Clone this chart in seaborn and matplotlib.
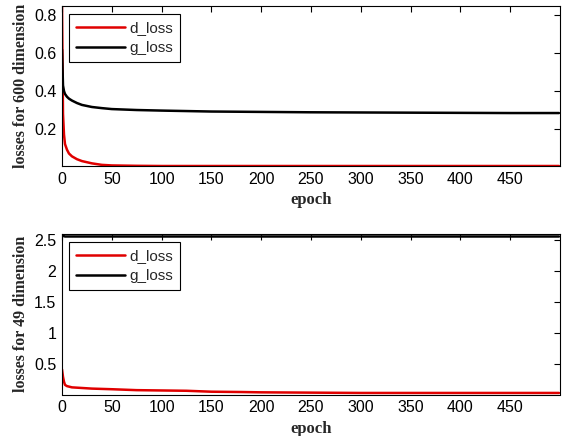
import numpy as np
import pandas as pd
import seaborn as sns
import matplotlib
matplotlib.use("Agg")
import matplotlib.pyplot as plt

# ---- data ----
epochs_600 = [0, 1, 2, 3, 5, 7, 10, 15, 20, 30, 40, 50, 75, 100, 150, 200, 250, 300, 350, 400, 450, 499]
d_loss_600 = [0.85, 0.28, 0.17, 0.12, 0.09, 0.07, 0.055, 0.04, 0.03, 0.018, 0.01, 0.007, 0.005, 0.004, 0.004,
              0.004, 0.004, 0.004, 0.004, 0.004, 0.004, 0.004]
g_loss_600 = [0.62, 0.43, 0.40, 0.385, 0.37, 0.36, 0.35, 0.337, 0.327, 0.316, 0.31, 0.305, 0.30, 0.297, 0.292,
              0.29, 0.288, 0.287, 0.286, 0.285, 0.284, 0.284]

epochs_49 = [0, 1, 2, 3, 5, 10, 20, 30, 50, 75, 100, 125, 150, 180, 200, 250, 300, 350, 400, 450, 499]
d_loss_49 = [0.42, 0.30, 0.22, 0.17, 0.15, 0.13, 0.12, 0.11, 0.10, 0.085, 0.08, 0.075, 0.06, 0.055, 0.05,
             0.045, 0.04, 0.04, 0.04, 0.04, 0.04]
g_loss_49 = [2.58, 2.57, 2.565, 2.56, 2.56, 2.56, 2.56, 2.56, 2.56, 2.56, 2.56, 2.56, 2.56, 2.56, 2.56,
             2.56, 2.56, 2.56, 2.56, 2.56, 2.56]

x_ticks = [0, 50, 100, 150, 200, 250, 300, 350, 400, 450]
y_ticks_600 = [0.2, 0.4, 0.6, 0.8]
y_ticklabels_600 = ["0.2", "0.4", "0.6", "0.8"]
y_ticks_49 = [0.5, 1, 1.5, 2, 2.5]
y_ticklabels_49 = ["0.5", "1", "1.5", "2", "2.5"]

sns.set_style("white")
plt.rcParams['font.family'] = ['Liberation Sans', 'DejaVu Sans']

fig = plt.figure(figsize=(5.63, 4.36), dpi=100)
ax1 = fig.add_axes([62/563, 1-166/436, 498/563, 160/436])
ax2 = fig.add_axes([62/563, 1-394.5/436, 498/563, 160.5/436])

palette = {"d_loss": "#e00000", "g_loss": "#000000"}


def make_df(ep, d, g):
    return pd.concat([
        pd.DataFrame({"epoch": ep, "loss": d, "series": "d_loss"}),
        pd.DataFrame({"epoch": ep, "loss": g, "series": "g_loss"}),
    ], ignore_index=True)


panels = [
    (ax1, make_df(epochs_600, d_loss_600, g_loss_600), "losses for 600 dimension", (0.004, 0.85), y_ticks_600,
     y_ticklabels_600),
    (ax2, make_df(epochs_49, d_loss_49, g_loss_49), "losses for 49 dimension", (0.015, 2.6), y_ticks_49,
     y_ticklabels_49),
]

for ax, df, ylab, ylim, yt, ytl in panels:
    sns.lineplot(data=df, x="epoch", y="loss", hue="series", palette=palette, ax=ax,
                 linewidth=1.8, estimator=None, sort=False)
    ax.set_xlim(0, 500)
    ax.set_ylim(*ylim)
    ax.set_xticks(x_ticks)
    ax.set_xticklabels([str(t) for t in x_ticks])
    ax.set_yticks(yt)
    ax.set_yticklabels(ytl)
    ax.tick_params(direction="in", length=4, width=0.8, top=True, right=True,
                   labelsize=11.5, colors="#000000", pad=4)
    for sp in ax.spines.values():
        sp.set_color("#000000")
        sp.set_linewidth(0.8)
    ax.set_xlabel("epoch", fontfamily="Liberation Serif", fontweight="bold", fontsize=12, labelpad=4)
    ax.set_ylabel(ylab, fontfamily="Liberation Serif", fontweight="bold", fontsize=11.5, labelpad=4)
    leg = ax.legend(loc="upper left", bbox_to_anchor=(0.014, 0.95), fancybox=False, framealpha=1,
                    edgecolor="#000000", fontsize=11, handlelength=3.2, borderpad=0.45,
                    labelspacing=0.4, handletextpad=0.3, borderaxespad=0)
    leg.get_frame().set_linewidth(0.8)

fig.savefig("out.png", dpi=100)
